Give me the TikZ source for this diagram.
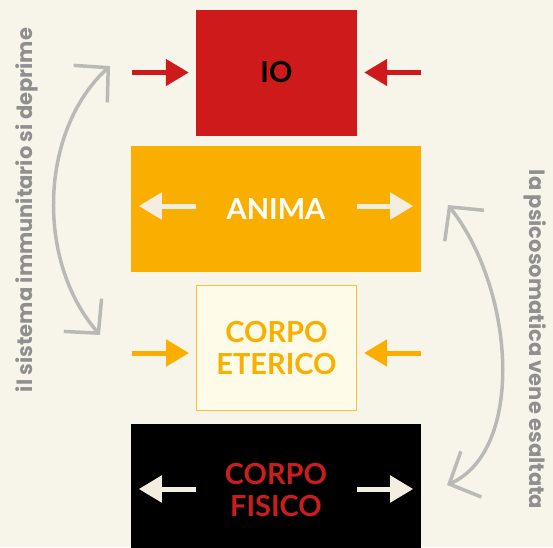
\documentclass[tikz,border=0pt]{standalone}
\usepackage{fontspec}
\setmainfont{Lato}
\newfontfamily\sidefont{Poppins}
\usetikzlibrary{arrows.meta}

\definecolor{bgcream}{HTML}{F7F5E9}
\definecolor{iored}{HTML}{CE1A1A}
\definecolor{animaorange}{HTML}{FAAF00}
\definecolor{etericofill}{HTML}{FEFBE8}
\definecolor{etericoline}{HTML}{F9BE3A}
\definecolor{fisicored}{HTML}{CB1D1D}
\definecolor{arrowcream}{HTML}{F3EEE0}
\definecolor{textgray}{HTML}{8F8F8F}
\definecolor{curvegray}{HTML}{B9B9B6}

\begin{document}
\begin{tikzpicture}[x=1pt,y=-1pt,
	box/.style={rectangle,inner sep=0pt,align=center,font=\fontsize{29}{32.5}\selectfont\bfseries},
	fatarrow/.style={line width=5pt,-{Triangle[length=23pt,width=26pt]}},
	bentarrow/.style={line width=3.5pt,draw=curvegray,line cap=round,{Straight Barb[length=24pt,width=50pt]}-{Straight Barb[length=24pt,width=50pt]}},
	sidetext/.style={text=textgray,anchor=base,font=\sidefont\fontsize{21}{25}\selectfont\bfseries}]

\fill[bgcream] (0,0) rectangle (553,547);
\useasboundingbox (0,0) rectangle (553,547);

\node (io) at (276.5,72.5) [box,fill=iored,minimum width=161pt,minimum height=126pt] {IO};
\node (anima) at (276,209) [box,fill=animaorange,text=white,minimum width=290pt,minimum height=126pt] {ANIMA};
\node (eterico) at (276.5,348) [box,fill=etericofill,draw=etericoline,line width=1pt,text=animaorange,minimum width=160pt,minimum height=125pt] {CORPO\\ETERICO};
\node (fisico) at (276,490) [box,fill=black,text=fisicored,minimum width=290pt,minimum height=132pt] {CORPO\\FISICO};

\foreach \b/\c/\dy in {io/iored/0,eterico/animaorange/5} {
	\draw[fatarrow,draw=\c,fill=\c] ([shift={(-64,\dy)}]\b.west) -- ([shift={(-7,\dy)}]\b.west);
	\draw[fatarrow,draw=\c,fill=\c] ([shift={(64,\dy)}]\b.east) -- ([shift={(7,\dy)}]\b.east);
}
\foreach \b/\dy in {anima/-3,fisico/-1} {
	\draw[fatarrow,draw=arrowcream,fill=arrowcream] ([shift={(65,\dy)}]\b.west) -- ([shift={(8,\dy)}]\b.west);
	\draw[fatarrow,draw=arrowcream,fill=arrowcream] ([shift={(-64,\dy)}]\b.east) -- ([shift={(-8,\dy)}]\b.east);
}

\draw[bentarrow] (100,335) .. controls (35,260) and (40,130) .. (110,66);
\draw[bentarrow] (447,485) .. controls (525,450) and (515,290) .. (448,205);

\node (immunitario) at (32,210) [sidetext,rotate=90] {il sistema immunitario si deprime};
\node (psicosomatica) at (529,339.5) [sidetext,rotate=-90] {la psicosomatica vene esaltata};

\end{tikzpicture}
\end{document}
